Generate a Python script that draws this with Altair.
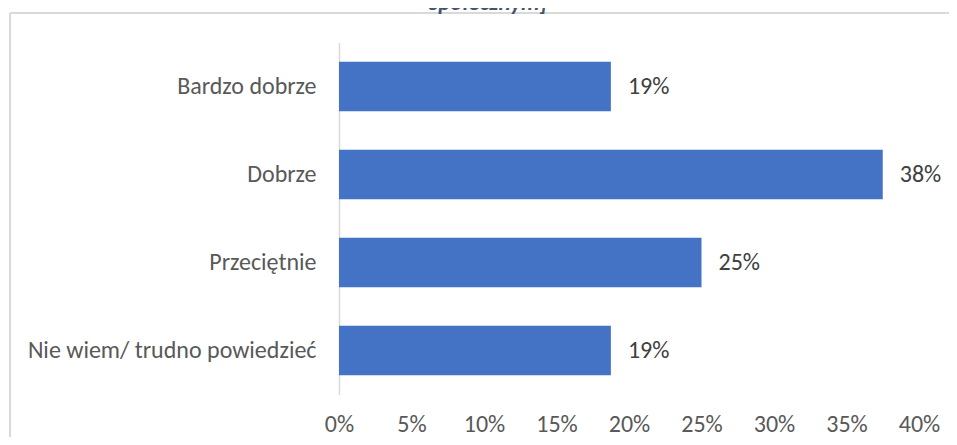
import altair as alt
import pandas as pd

categories = ["Bardzo dobrze", "Dobrze", "Przeciętnie", "Nie wiem/ trudno powiedzieć"]
values = [0.1875, 0.375, 0.25, 0.1875]
labels = ["19%", "38%", "25%", "19%"]
x_ticks = [0, 0.05, 0.10, 0.15, 0.20, 0.25, 0.30, 0.35, 0.40]
title_fragment = "społecznym]"

FONT = "Carlito, Lato"

df = pd.DataFrame({"cat": categories, "val": values, "lab": labels})

base = alt.Chart(df)

bars = base.mark_bar(color="#4472C4").encode(
    y=alt.Y("cat:N", sort=categories, title=None,
            scale=alt.Scale(paddingInner=0.44, paddingOuter=0.22),
            axis=alt.Axis(labelFont=FONT, labelFontSize=24, labelColor="#595959",
                          labelPadding=23, ticks=False, domain=True,
                          domainColor="#d9d9d9", domainWidth=1.5, labelLimit=400)),
    x=alt.X("val:Q", title=None,
            scale=alt.Scale(domain=[0, 0.4], nice=False),
            axis=alt.Axis(values=x_ticks, format=".0%", labelFont=FONT, labelFontSize=24,
                          labelColor="#595959", labelPadding=18, ticks=False,
                          labelFlush=False, labelOverlap=False,
                          domain=False, grid=False)),
)

text = base.mark_text(align="left", baseline="middle", dx=17, font=FONT,
                      fontSize=24, color="#404040").encode(
    y=alt.Y("cat:N", sort=categories),
    x=alt.X("val:Q"),
    text="lab:N",
)

deco = alt.Chart(pd.DataFrame({"t": [title_fragment]}))
top_line = deco.mark_rule(color="#d9d9d9", strokeWidth=2).encode(
    x=alt.value(-329), x2=alt.value(620), y=alt.value(-29.5))
left_line = deco.mark_rule(color="#d9d9d9", strokeWidth=2).encode(
    x=alt.value(-329), y=alt.value(-29.5), y2=alt.value(420))
title_txt = deco.mark_text(font=FONT, fontSize=23, fontWeight="bold", fontStyle="italic",
                           color="#44546A", align="center", baseline="alphabetic").encode(
    x=alt.value(149), y=alt.value(-33), text="t:N")

chart = alt.layer(top_line, left_line, title_txt, bars, text).properties(
    width=580, height=352,
    autosize=alt.AutoSizeParams(type="none"),
    padding={"left": 331, "top": 34.5, "right": 30, "bottom": 42.5},
).configure(background="white").configure_view(strokeWidth=0, stroke="transparent")

chart.save("out.html", embed_options={"renderer": "svg", "actions": False})
